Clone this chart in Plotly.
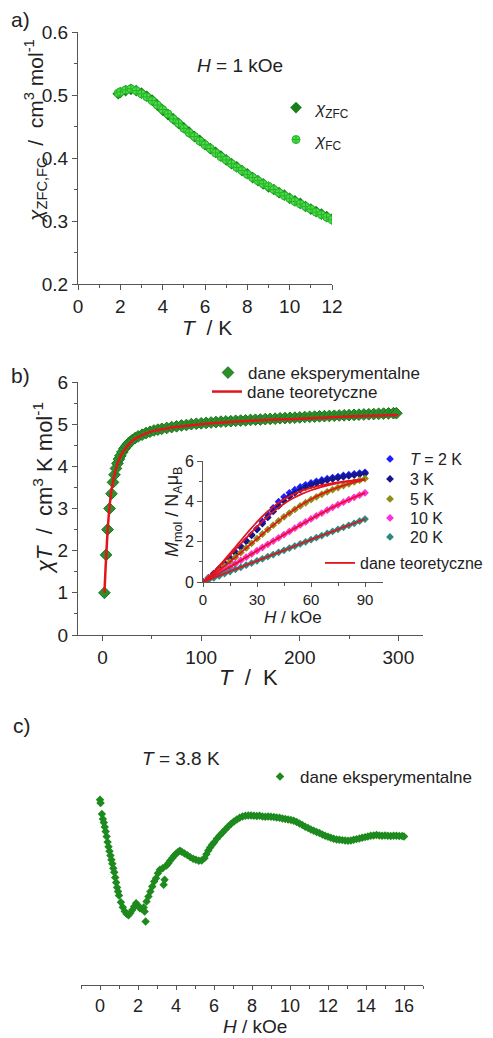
import plotly.graph_objects as go

W, H = 493, 1038
FONT = "Liberation Sans, Arial, sans-serif"


def px(x):
    return x / W


def py(y):
    return 1 - y / H


# ---------------- panel a: chi_ZFC / chi_FC vs T ----------------
a_T = [1.9, 2.0, 2.25, 2.5, 2.75, 3.0, 3.25, 3.5, 3.75, 4.0, 4.25, 4.5, 4.75, 5.0, 5.25, 5.5,
       5.75, 6.0, 6.25, 6.5, 6.75, 7.0, 7.25, 7.5, 7.75, 8.0, 8.25, 8.5, 8.75, 9.0, 9.25, 9.5,
       9.75, 10.0, 10.25, 10.5, 10.75, 11.0, 11.25, 11.5, 11.75, 12.0]
a_zfc = [0.502, 0.504, 0.507, 0.509, 0.507, 0.503, 0.498, 0.492, 0.484, 0.476, 0.469, 0.462,
         0.455, 0.448, 0.441, 0.434, 0.428, 0.421, 0.415, 0.409, 0.403, 0.397, 0.391, 0.386,
         0.380, 0.375, 0.369, 0.364, 0.359, 0.354, 0.350, 0.345, 0.341, 0.336, 0.332, 0.328,
         0.323, 0.319, 0.315, 0.311, 0.307, 0.303]
a_fc = [0.503, 0.505, 0.508, 0.510, 0.507, 0.502, 0.497, 0.491, 0.484, 0.477, 0.470, 0.462,
        0.455, 0.447, 0.440, 0.434, 0.427, 0.421, 0.415, 0.408, 0.402, 0.397, 0.391, 0.385,
        0.380, 0.374, 0.369, 0.364, 0.359, 0.355, 0.350, 0.345, 0.340, 0.336, 0.331, 0.327,
        0.323, 0.319, 0.314, 0.310, 0.306, 0.302]

# ---------------- panel b: chiT vs T ----------------
b_T = [1.8, 3.5, 5, 7, 9, 10.5, 12, 13.5, 15, 16.5, 18, 20, 22, 24, 26, 28, 30, 33, 36, 40, 44,
       48, 52, 56, 60, 65, 70, 75, 80, 85, 90, 95, 100, 105, 110, 115, 120, 125, 130, 135, 140,
       145, 150, 155, 160, 165, 170, 175, 180, 185, 190, 195, 200, 205, 210, 215, 220, 225,
       230, 235, 240, 245, 250, 255, 260, 265, 270, 275, 280, 285, 290, 295, 298]
b_chiT = [1.0, 1.9, 2.5, 3.0, 3.35, 3.62, 3.8, 3.95, 4.07, 4.17, 4.25, 4.34, 4.42, 4.48, 4.54,
          4.58, 4.62, 4.67, 4.71, 4.75, 4.79, 4.82, 4.85, 4.87, 4.89, 4.91, 4.93, 4.95, 4.97,
          4.98, 5.0, 5.01, 5.02, 5.03, 5.04, 5.05, 5.06, 5.065, 5.07, 5.08, 5.085, 5.09, 5.10,
          5.105, 5.11, 5.12, 5.125, 5.13, 5.14, 5.145, 5.15, 5.155, 5.16, 5.17, 5.175, 5.18,
          5.185, 5.19, 5.195, 5.2, 5.205, 5.21, 5.215, 5.22, 5.225, 5.23, 5.235, 5.24, 5.245,
          5.25, 5.255, 5.26, 5.26]
b_fit_T = [1.8, 3, 4, 5, 6, 7, 8, 9, 10, 12, 14, 16, 18, 20, 25, 30, 35, 40, 50, 60, 80, 100,
           150, 200, 250, 300]
b_fit = [1.0, 1.6, 2.05, 2.45, 2.78, 3.05, 3.26, 3.43, 3.57, 3.8, 3.98, 4.12, 4.23, 4.32, 4.48,
         4.6, 4.68, 4.74, 4.83, 4.88, 4.95, 5.0, 5.08, 5.13, 5.18, 5.22]

# ---------------- inset: M vs H ----------------
m_H = [0, 3, 6, 9, 12, 15, 18, 21, 24, 27, 30, 33, 36, 39, 42, 45, 48, 51, 54, 57, 60, 63, 66,
       69, 72, 75, 78, 81, 84, 87, 90]
m_2K = [0, 0.2, 0.42, 0.66, 0.92, 1.2, 1.48, 1.76, 2.05, 2.35, 2.65, 3.0, 3.35, 3.68, 3.98,
        4.22, 4.42, 4.58, 4.71, 4.82, 4.91, 4.99, 5.06, 5.12, 5.18, 5.23, 5.28, 5.32, 5.36,
        5.40, 5.44]
m_3K = [0, 0.2, 0.42, 0.66, 0.91, 1.18, 1.45, 1.73, 2.02, 2.31, 2.6, 2.9, 3.2, 3.5, 3.77, 4.02,
        4.24, 4.42, 4.57, 4.70, 4.81, 4.90, 4.98, 5.05, 5.11, 5.17, 5.22, 5.26, 5.30, 5.34, 5.38]
m_5K = [0, 0.18, 0.37, 0.57, 0.78, 1.0, 1.23, 1.46, 1.69, 1.92, 2.15, 2.38, 2.6, 2.82, 3.03,
        3.23, 3.42, 3.6, 3.77, 3.93, 4.08, 4.22, 4.35, 4.47, 4.58, 4.68, 4.78, 4.87, 4.96, 5.05,
        5.13]
m_10K = [0, 0.15, 0.3, 0.45, 0.6, 0.75, 0.91, 1.07, 1.23, 1.39, 1.55, 1.71, 1.87, 2.03, 2.19,
         2.35, 2.51, 2.67, 2.83, 2.98, 3.13, 3.28, 3.42, 3.56, 3.7, 3.83, 3.96, 4.08, 4.2, 4.31,
         4.42]
m_20K = [0, 0.1, 0.21, 0.31, 0.42, 0.52, 0.63, 0.73, 0.84, 0.94, 1.05, 1.15, 1.26, 1.36, 1.47,
         1.57, 1.68, 1.78, 1.89, 1.99, 2.1, 2.2, 2.3, 2.41, 2.51, 2.61, 2.71, 2.81, 2.91, 3.02,
         3.12]
fit_H = [0, 5, 10, 15, 20, 25, 30, 35, 40, 45, 50, 55, 60, 65, 70, 75, 80, 85, 90]
fit_2K = [0, 0.42, 0.9, 1.42, 1.95, 2.48, 2.98, 3.42, 3.8, 4.1, 4.34, 4.53, 4.67, 4.78, 4.87,
          4.94, 5.0, 5.05, 5.09]
fit_3K = [0, 0.4, 0.85, 1.32, 1.8, 2.28, 2.74, 3.17, 3.55, 3.88, 4.15, 4.37, 4.55, 4.69, 4.81,
          4.9, 4.98, 5.04, 5.09]
fit_5K = [0, 0.32, 0.66, 1.0, 1.38, 1.76, 2.14, 2.52, 2.89, 3.23, 3.55, 3.84, 4.1, 4.33, 4.52,
          4.69, 4.84, 4.97, 5.08]
fit_10K = [0, 0.25, 0.5, 0.75, 1.01, 1.28, 1.55, 1.82, 2.08, 2.35, 2.61, 2.87, 3.12, 3.37,
           3.61, 3.83, 4.04, 4.24, 4.42]
fit_20K = [0, 0.17, 0.35, 0.52, 0.7, 0.87, 1.05, 1.22, 1.4, 1.57, 1.75, 1.92, 2.1, 2.27, 2.44,
           2.61, 2.78, 2.95, 3.12]
m_labels = ["<i>T</i> = 2 K", "3 K", "5 K", "10 K", "20 K"]
m_colors = ["#1f1fff", "#16168c", "#8e8e16", "#ff2ed6", "#2a8a80"]

# ---------------- panel c: signal vs H at 3.8 K ----------------
c_H = [0.0, 0.03, 0.1, 0.15, 0.2, 0.25, 0.3, 0.35, 0.4, 0.45, 0.5, 0.55, 0.6, 0.65, 0.7, 0.75,
       0.8, 0.85, 0.9, 0.95, 1.0, 1.1, 1.2, 1.3, 1.4, 1.5, 1.6, 1.7, 1.8, 1.9, 2.0, 2.1, 2.2,
       2.3, 2.35, 2.4, 2.45, 2.55, 2.65, 2.75, 2.85, 2.95, 3.05, 3.15, 3.3, 3.35, 3.4, 3.5, 3.6,
       3.7, 3.8, 3.9, 4.0, 4.1, 4.2, 4.3, 4.45, 4.6, 4.75, 4.9, 5.05, 5.2, 5.35, 5.5, 5.6, 5.7,
       5.8, 5.9, 6.0, 6.15, 6.3, 6.45, 6.6, 6.75, 6.9, 7.05, 7.2, 7.35, 7.5, 7.65, 7.8, 7.95,
       8.1, 8.25, 8.4, 8.55, 8.7, 8.85, 9.0, 9.15, 9.3, 9.45, 9.6, 9.75, 9.9, 10.05, 10.2,
       10.35, 10.5, 10.65, 10.8, 10.95, 11.1, 11.25, 11.4, 11.55, 11.7, 11.85, 12.0, 12.15,
       12.3, 12.45, 12.6, 12.75, 12.9, 13.05, 13.2, 13.35, 13.5, 13.65, 13.8, 13.95, 14.1,
       14.25, 14.4, 14.55, 14.7, 14.85, 15.0, 15.15, 15.3, 15.45, 15.6, 15.75, 15.9, 16.0]
c_sig = [5.55, 5.45, 5.12, 4.97, 4.87, 4.73, 4.6, 4.45, 4.28, 4.14, 4.01, 3.88, 3.75, 3.63,
         3.5, 3.38, 3.22, 3.07, 2.92, 2.8, 2.68, 2.48, 2.33, 2.21, 2.13, 2.09, 2.16, 2.25, 2.35,
         2.45, 2.38, 2.3, 2.28, 2.32, 2.2, 1.9, 2.5, 2.65, 2.8, 2.95, 3.1, 3.2, 3.35, 3.45, 3.5,
         3.0, 3.15, 3.58, 3.65, 3.73, 3.8, 3.87, 3.93, 3.98, 4.02, 3.99, 3.94, 3.89, 3.83, 3.78,
         3.75, 3.72, 3.73, 3.8, 3.92, 4.03, 4.12, 4.2, 4.27, 4.38, 4.48, 4.57, 4.66, 4.75, 4.83,
         4.9, 4.96, 5.01, 5.05, 5.07, 5.08, 5.08, 5.07, 5.06, 5.07, 5.05, 5.04, 5.05, 5.04, 5.03,
         5.02, 5.01, 4.99, 4.97, 4.96, 4.94, 4.92, 4.88, 4.84, 4.79, 4.74, 4.7, 4.66, 4.62, 4.58,
         4.55, 4.51, 4.47, 4.44, 4.41, 4.38, 4.36, 4.35, 4.34, 4.33, 4.32, 4.33, 4.35, 4.37,
         4.39, 4.41, 4.43, 4.45, 4.47, 4.48, 4.49, 4.48, 4.47, 4.48, 4.47, 4.46, 4.47, 4.47,
         4.46, 4.46, 4.45]

fig = go.Figure()

# panel a traces
fig.add_trace(go.Scatter(x=a_T, y=a_zfc, xaxis="x", yaxis="y", mode="markers",
                         name="<i>χ</i><sub>ZFC</sub>", legend="legend",
                         marker=dict(symbol="diamond", size=9, color="#167f16")))
fig.add_trace(go.Scatter(x=a_T, y=a_fc, xaxis="x", yaxis="y", mode="markers",
                         name="<i>χ</i><sub>FC</sub>", legend="legend2",
                         marker=dict(symbol="circle-cross", size=8, color="#4ed84e",
                                     line=dict(color="#25b525", width=1))))

# panel b traces
fig.add_trace(go.Scatter(x=b_T, y=b_chiT, xaxis="x2", yaxis="y2", mode="markers",
                         name="dane eksperymentalne", legend="legend3",
                         marker=dict(symbol="diamond", size=9, color="#2b8f2b",
                                     line=dict(color="#1d761d", width=1))))
fig.add_trace(go.Scatter(x=b_fit_T, y=b_fit, xaxis="x2", yaxis="y2", mode="lines",
                         name="dane teoretyczne", legend="legend4", line_shape="spline",
                         line=dict(color="#e3141c", width=2.5)))

# inset traces
m_series = [m_2K, m_3K, m_5K, m_10K, m_20K]
for i, (ys, lab, col) in enumerate(zip(m_series, m_labels, m_colors)):
    fig.add_trace(go.Scatter(x=m_H, y=ys, xaxis="x3", yaxis="y3", mode="markers", name=lab,
                             legend=f"legend{5 + i}",
                             marker=dict(symbol="diamond", size=6, color=col)))
fit_series = [fit_2K, fit_3K, fit_5K, fit_10K, fit_20K]
for i, ys in enumerate(fit_series):
    fig.add_trace(go.Scatter(x=fit_H, y=ys, xaxis="x3", yaxis="y3", mode="lines",
                             name="dane teoretyczne", legend="legend10", line_shape="spline",
                             showlegend=(i == 0),
                             line=dict(color="#e3141c", width=1.8)))

# panel c
fig.add_trace(go.Scatter(x=c_H, y=c_sig, xaxis="x4", yaxis="y4", mode="markers",
                         name="dane eksperymentalne", legend="legend11",
                         marker=dict(symbol="diamond", size=6.5, color="#1d8a1d")))

AX = "#555555"


def axis(size, **kw):
    d = dict(showline=True, linecolor=AX, linewidth=1, ticks="outside", ticklen=5,
             tickcolor=AX, tickwidth=1, showgrid=False, zeroline=False, mirror=False,
             tickfont=dict(family=FONT, size=size, color="#222"))
    d.update(kw)
    return d


def minor(dt):
    return dict(ticks="outside", ticklen=3, dtick=dt, tickcolor=AX, showgrid=False)


def leg(sx, sy, size):
    return dict(x=px(sx - 20), y=py(sy), xanchor="left", yanchor="middle",
                bgcolor="rgba(0,0,0,0)", borderwidth=0, itemsizing="trace",
                font=dict(family=FONT, size=size, color="#222"))


layout = dict(
    width=W, height=H, margin=dict(l=0, r=0, t=0, b=0, autoexpand=False),
    paper_bgcolor="white", plot_bgcolor="rgba(0,0,0,0)",
    font=dict(family=FONT, color="#222"),
    xaxis=axis(19, domain=[px(78), px(332)], anchor="y", range=[0, 12], dtick=2, minor=minor(1)),
    yaxis=axis(19, domain=[py(284), py(32)], anchor="x", range=[0.2, 0.6], dtick=0.1,
               tickformat=".1f", minor=minor(0.05)),
    xaxis2=axis(19, domain=[px(78), px(423)], anchor="y2", range=[-25, 325], dtick=100,
                minor=minor(50)),
    yaxis2=axis(19, domain=[py(635), py(382)], anchor="x2", range=[0, 6], dtick=1,
                minor=minor(0.5)),
    xaxis3=axis(15, domain=[px(203), px(383)], anchor="y3", range=[0, 100], ticklen=4,
                tickvals=[0, 30, 60, 90], minor=dict(ticks="outside", ticklen=3,
                                                     tickvals=[15, 45, 75], tickcolor=AX)),
    yaxis3=axis(16, domain=[py(582), py(461)], anchor="x3", range=[0, 6], dtick=2,
                minor=minor(1)),
    xaxis4=axis(18, domain=[px(81), px(423)], anchor="y4", range=[-1, 17], dtick=2,
                ticklen=4, minor=minor(1)),
    yaxis4=dict(domain=[py(985), py(768)], anchor="x4", range=[0, 6.5], visible=False),
    showlegend=True,
)

layout["legend"] = leg(296, 108, 17)
layout["legend2"] = leg(296, 140, 17)
layout["legend3"] = leg(228, 373, 17)
layout["legend4"] = leg(227, 392, 17)
inset_y = [459, 479, 499, 518, 537]
for i, yy in enumerate(inset_y):
    layout[f"legend{5 + i}"] = leg(390, yy, 16)
layout["legend10"] = leg(340, 563, 16)
layout["legend11"] = leg(280, 777, 17)

fig.update_layout(**layout)

ann = [
    dict(text="a)", x=px(20), y=py(20), font=dict(size=21)),
    dict(text="b)", x=px(20), y=py(375), font=dict(size=21)),
    dict(text="c)", x=px(22), y=py(725), font=dict(size=21)),
    dict(text="<i>H</i> = 1 kOe", x=px(240), y=py(65), font=dict(size=19)),
    dict(text="<i>T</i> = 3.8 K", x=px(181), y=py(758), font=dict(size=19)),
    dict(text="<i>χ</i><sub>ZFC,FC</sub>  /  cm<sup>3</sup> mol<sup>-1</sup>", x=px(35),
         y=py(131), textangle=-90, font=dict(size=21)),
    dict(text="<i>T</i>  / K", x=px(207), y=py(327), font=dict(size=21)),
    dict(text="<i>χT</i>  /  cm<sup>3</sup> K mol<sup>-1</sup>", x=px(43), y=py(488),
         textangle=-90, font=dict(size=22)),
    dict(text="<i>T</i>  /  K", x=px(248), y=py(677), font=dict(size=22)),
    dict(text="<i>M</i><sub>mol</sub> / N<sub>A</sub>μ<sub>B</sub>", x=px(173), y=py(512),
         textangle=-90, font=dict(size=18)),
    dict(text="<i>H</i> / kOe", x=px(293), y=py(617), font=dict(size=17)),
    dict(text="<i>H</i> / kOe", x=px(255), y=py(1026), font=dict(size=19)),
]
for a in ann:
    a.update(xref="paper", yref="paper", xanchor="center", yanchor="middle", showarrow=False)
    a["font"].update(family=FONT, color="#222")
fig.update_layout(annotations=ann)

fig.write_html("out.html", config={"displayModeBar": False},
               post_script="document.body.style.margin='0';document.body.style.overflow='hidden';")
